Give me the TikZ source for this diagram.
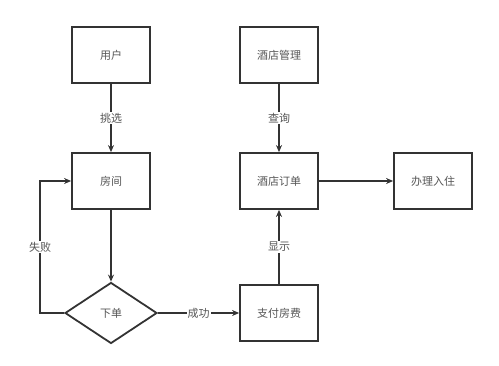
\documentclass[tikz,border=0pt]{standalone}
\usepackage{fontspec}
\newfontfamily\cjk{Noto Sans CJK SC}
\usetikzlibrary{shapes.geometric,arrows.meta}
\definecolor{linegray}{HTML}{333333}
\definecolor{textgray}{HTML}{555555}

\begin{document}
\begin{tikzpicture}[x=1pt,y=-1pt,
  box/.style={draw=linegray,line width=1.8pt,minimum width=78pt,minimum height=56pt,
    font=\cjk\fontsize{11}{13}\selectfont,text=textgray},
  choice/.style={box,diamond,minimum width=92pt,minimum height=61pt,inner sep=0pt},
  arr/.style={draw=linegray,line width=1.8pt,-{Stealth[length=7pt,width=6pt]}},
  lbl/.style={fill=white,inner sep=1pt,font=\cjk\fontsize{11}{13}\selectfont,text=textgray}]
  \useasboundingbox (0,0) rectangle (499,366);

  % Left column
  \node[box] (user) at (111,55) {用户};
  \node[box] (room) at (111,181) {房间};
  \node[choice] (order) at (111,313) {下单};

  % Right part
  \node[box] (manage) at (279,55) {酒店管理};
  \node[box] (hotelorder) at (279,181) {酒店订单};
  \node[box] (pay) at (279,313) {支付房费};
  \node[box] (checkin) at (433,181) {办理入住};

  % Connectors
  \draw[arr] (user) -- (room) node[lbl,midway] {挑选};
  \draw[arr] (room) -- (order);
  \draw[arr] (order) -- (pay) node[lbl,midway] {成功};
  \draw[arr] (order.west) -- ++(-24,0) |- (room.west) node[lbl,pos=0.25] {失败};
  \draw[arr] (pay) -- (hotelorder) node[lbl,midway] {显示};
  \draw[arr] (manage) -- (hotelorder) node[lbl,midway] {查询};
  \draw[arr] (hotelorder) -- (checkin);
\end{tikzpicture}
\end{document}
